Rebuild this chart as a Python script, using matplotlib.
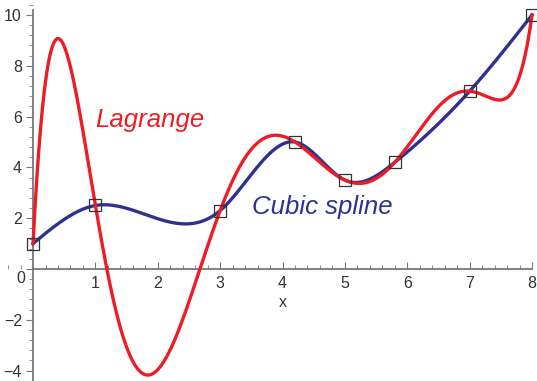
import matplotlib.pyplot as plt
import numpy as np
from matplotlib.ticker import MultipleLocator

# interpolation nodes
x_nodes = [0, 1, 3, 4.2, 5, 5.8, 7, 8]
y_nodes = [1, 2.5, 2.3, 5, 3.5, 4.2, 7, 10]

red = '#ee1c25'
blue = '#2e3192'


def natural_spline(xn, yn, xs):
    xn = np.asarray(xn, float)
    yn = np.asarray(yn, float)
    n = len(xn)
    h = np.diff(xn)
    A = np.zeros((n, n))
    b = np.zeros(n)
    A[0, 0] = A[-1, -1] = 1
    for i in range(1, n - 1):
        A[i, i - 1] = h[i - 1]
        A[i, i] = 2 * (h[i - 1] + h[i])
        A[i, i + 1] = h[i]
        b[i] = 3 * ((yn[i + 1] - yn[i]) / h[i] - (yn[i] - yn[i - 1]) / h[i - 1])
    c = np.linalg.solve(A, b)
    out = np.empty_like(xs)
    for k, x in enumerate(xs):
        i = min(max(np.searchsorted(xn, x) - 1, 0), n - 2)
        bi = (yn[i + 1] - yn[i]) / h[i] - h[i] * (2 * c[i] + c[i + 1]) / 3
        di = (c[i + 1] - c[i]) / (3 * h[i])
        t = x - xn[i]
        out[k] = yn[i] + bi * t + c[i] * t ** 2 + di * t ** 3
    return out


xs = np.linspace(0, 8, 800)
lag = np.polyval(np.polyfit(x_nodes, y_nodes, len(x_nodes) - 1), xs)
spl = natural_spline(x_nodes, y_nodes, xs)

plt.rcParams['font.family'] = ['Liberation Sans', 'DejaVu Sans']
fig = plt.figure(figsize=(5.37, 3.81), dpi=100)
ax = fig.add_axes([0, 0, 1, 1])

ax.plot(xs, spl, color=blue, lw=2.4, clip_on=False, zorder=3)
ax.plot(xs, lag, color=red, lw=2.4, clip_on=False, zorder=4)
ax.plot(x_nodes, y_nodes, 's', ms=8, mfc='none', mec='#333333', mew=0.9,
        clip_on=False, zorder=5)

ax.set_xlim(-0.53, 8.08)
ax.set_ylim(-4.41, 10.59)

for s in ['top', 'right']:
    ax.spines[s].set_visible(False)
ax.spines['left'].set_position(('data', 0))
ax.spines['bottom'].set_position(('data', 0))
ax.spines['left'].set_bounds(-4.41, 10.2)
ax.spines['bottom'].set_bounds(0, 8)
for s in ['left', 'bottom']:
    ax.spines[s].set_color('#777777')
    ax.spines[s].set_linewidth(1.3)

ax.set_xticks(range(1, 9))
ax.set_yticks([-4, -2, 0, 2, 4, 6, 8, 10])
ax.set_yticklabels(['\u22124', '\u22122', '', '2', '4', '6', '8', '10'])
ax.xaxis.set_minor_locator(MultipleLocator(0.2))
ax.yaxis.set_minor_locator(MultipleLocator(0.4))
ax.tick_params(axis='x', which='both', direction='in', colors='#777777',
               labelcolor='#333333', labelsize=11.5, pad=5)
ax.tick_params(axis='x', which='major', length=5)
ax.tick_params(axis='x', which='minor', length=3)
ax.tick_params(axis='y', which='both', direction='out', colors='#777777',
               labelcolor='#333333', labelsize=11.5, pad=3)
ax.tick_params(axis='y', which='major', length=5)
ax.tick_params(axis='y', which='minor', length=3)

# origin label sits below the x axis
ax.text(-0.13, -0.36, '0', ha='right', va='center', fontsize=11.5, color='#333333')
ax.text(4, -1.3, 'x', ha='center', va='center', fontsize=11.5, color='#333333')
ax.text(1.88, 5.87, 'Lagrange', color=red, fontsize=18.5, style='italic',
        ha='center', va='center')
ax.text(4.63, 2.44, 'Cubic spline', color=blue, fontsize=18.5, style='italic',
        ha='center', va='center')

fig.savefig('out.png', dpi=100)
